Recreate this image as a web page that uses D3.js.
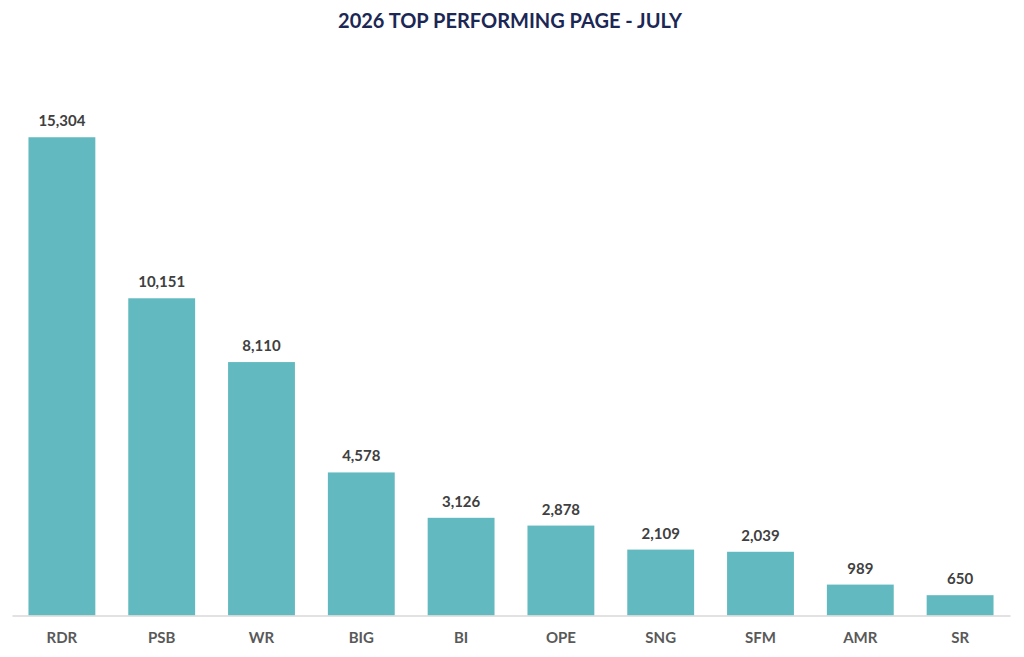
<!DOCTYPE html>
<html><head><meta charset="utf-8">
<script src="https://cdn.jsdelivr.net/npm/d3@7"></script>
<style>html,body{margin:0;padding:0;background:#fff;}svg{display:block;}</style>
</head><body>
<svg id="chart" width="1024" height="657"></svg>
<script>
const categories = ["RDR","PSB","WR","BIG","BI","OPE","SNG","SFM","AMR","SR"];
const values = [15304,10151,8110,4578,3126,2878,2109,2039,989,650];
const title = "2026 TOP PERFORMING PAGE - JULY";
const yMax = 18000;

const svg = d3.select("#chart");
const font = "Lato, 'Open Sans', sans-serif";
const x = d3.scaleBand().domain(categories).range([12, 1010]).paddingInner(0.33).paddingOuter(0.165);
const y = d3.scaleLinear().domain([0, yMax]).range([615.5, 53]);

svg.append("text").attr("x", 510).attr("y", 28).attr("text-anchor","middle")
  .attr("font-family", font).attr("font-weight","bold").attr("font-size", 20)
  .attr("fill","#1b2754").text(title);

svg.selectAll("rect.bar").data(values).join("rect").attr("class","bar")
  .attr("x",(d,i)=>x(categories[i])).attr("width",x.bandwidth())
  .attr("y",d=>y(d)).attr("height",d=>y(0)-y(d)).attr("fill","#62bac0");

svg.selectAll("text.val").data(values).join("text").attr("class","val")
  .attr("x",(d,i)=>x(categories[i])+x.bandwidth()/2).attr("y",d=>y(d)-11)
  .attr("text-anchor","middle").attr("font-family",font).attr("font-weight","bold")
  .attr("font-size",15).attr("fill","#404040").text(d=>d3.format(",")(d));

const ax = svg.append("g").attr("transform","translate(0,615.5)")
  .call(d3.axisBottom(x).tickSize(0).tickPadding(17));
ax.select(".domain").attr("stroke","#d9d9d9").attr("stroke-width",1.5);
ax.selectAll("text").attr("font-family",font).attr("font-weight","bold")
  .attr("font-size",15).attr("fill","#595959");
</script>
</body></html>
